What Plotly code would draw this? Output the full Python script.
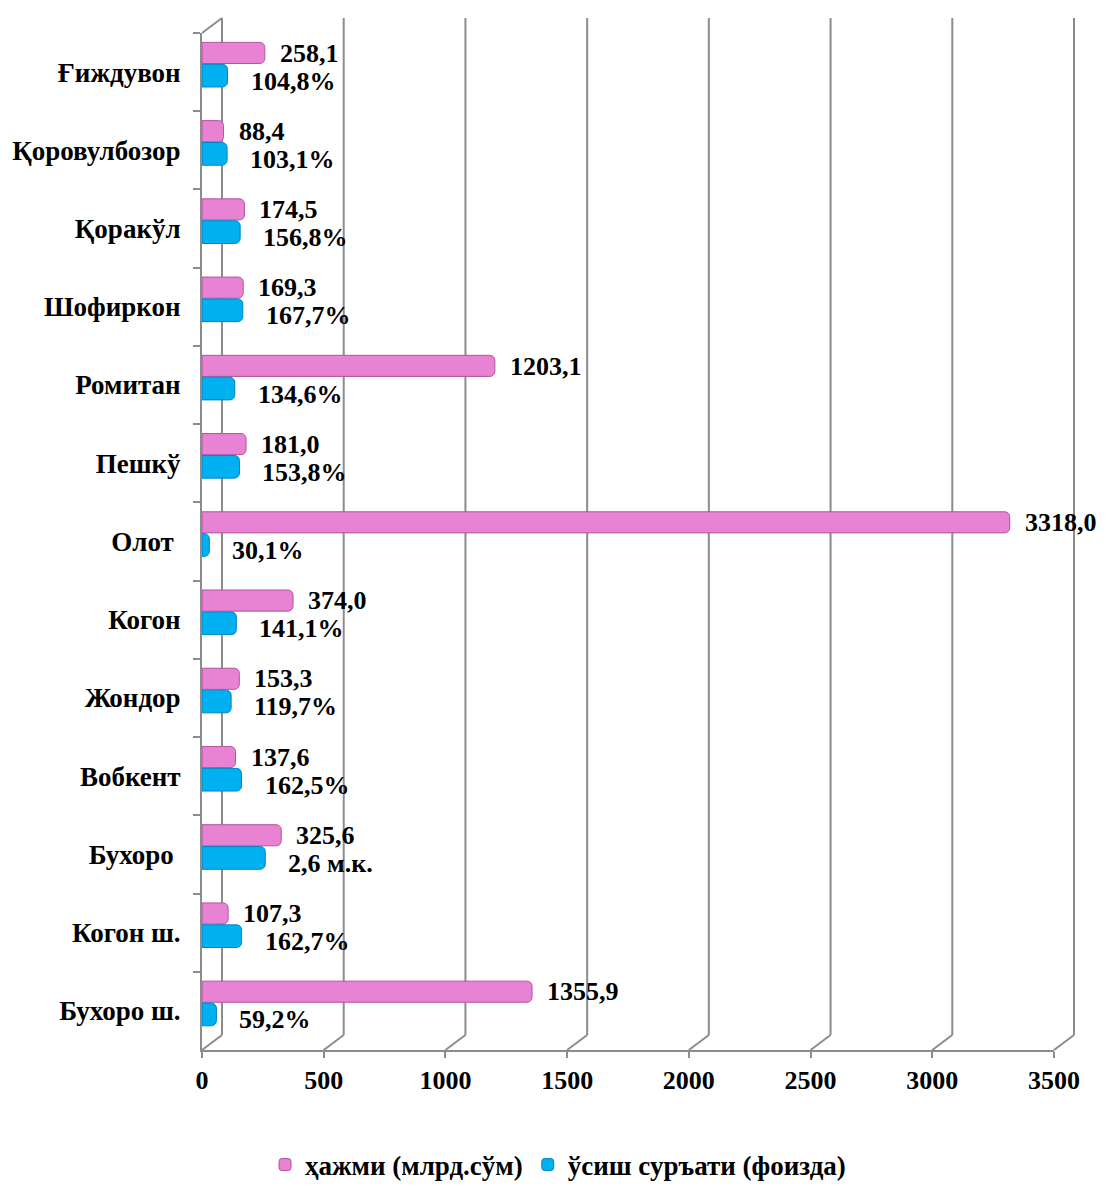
import plotly.graph_objects as go

# ---- data ----
districts = ["Ғиждувон", "Қоровулбозор", "Қоракўл", "Шофиркон", "Ромитан", "Пешкў",
             "Олот ", "Когон", "Жондор", "Вобкент", "Бухоро ", "Когон ш.", "Бухоро ш."]
volume = [258.1, 88.4, 174.5, 169.3, 1203.1, 181.0, 3318.0, 374.0, 153.3, 137.6, 325.6, 107.3, 1355.9]
growth = [104.8, 103.1, 156.8, 167.7, 134.6, 153.8, 30.1, 141.1, 119.7, 162.5, 260.0, 162.7, 59.2]
growth_labels = ["104,8%", "103,1%", "156,8%", "167,7%", "134,6%", "153,8%", "30,1%",
                 "141,1%", "119,7%", "162,5%", "2,6 м.к.", "162,7%", "59,2%"]
volume_labels = [f"{v:.1f}".replace(".", ",") for v in volume]
x_ticks = [0, 500, 1000, 1500, 2000, 2500, 3000, 3500]
series_names = ["ҳажми (млрд.сўм)", "ўсиш суръати (фоизда)"]

# ---- style ----
FONT = "Liberation Serif"
GRID = "#8C8C8C"
PINK = "#E882D2"
PINK_EDGE = "#B2559E"
BLUE = "#00B0F0"
BLUE_EDGE = "#0084C4"

# page has an 8px body margin; figure sized to fit the window
W, H = 1098, 1187
ML, MR, MT = 194, 52, 25
PH = 1017
MB = H - MT - PH
PW = W - ML - MR
XMIN, XMAX = x_ticks[0], x_ticks[-1]

fig = go.Figure()
fig.add_trace(go.Bar(
    y=districts, x=volume, orientation="h", name=series_names[0],
    marker=dict(color=PINK, line=dict(color=PINK_EDGE, width=1), cornerradius=5),
    offset=-0.38, width=0.27, cliponaxis=False,
))
fig.add_trace(go.Bar(
    y=districts, x=growth, orientation="h", name=series_names[1],
    marker=dict(color=BLUE, line=dict(color=BLUE_EDGE, width=1), cornerradius=5),
    offset=-0.10, width=0.29, cliponaxis=False,
))

# value labels placed from the data through the axes
annotations = []
lab_font = dict(family=FONT, size=26, color="black", weight="bold")
for d, v, t in zip(districts, volume, volume_labels):
    annotations.append(dict(x=v, y=d, xref="x", yref="y", text=t, showarrow=False,
                            xanchor="left", yanchor="middle", xshift=13, yshift=19, font=lab_font))
for d, v, t in zip(districts, growth, growth_labels):
    annotations.append(dict(x=v, y=d, xref="x", yref="y", text=t, showarrow=False,
                            xanchor="left", yanchor="middle", xshift=21, yshift=-9, font=lab_font))

# 3D-like back wall gridlines (computed from axis scale)
def xp(v):
    return (v - XMIN) / (XMAX - XMIN)

dxp = 20 / PW
dyp = 15 / PH
shapes = []
for v in x_ticks:
    x0 = xp(v)
    shapes.append(dict(type="line", xref="paper", yref="paper", x0=x0, y0=0, x1=x0 + dxp, y1=dyp,
                       line=dict(color=GRID, width=2), layer="below"))
    shapes.append(dict(type="line", xref="paper", yref="paper", x0=x0 + dxp, y0=dyp, x1=x0 + dxp, y1=1 + dyp,
                       line=dict(color=GRID, width=2), layer="below"))
shapes.append(dict(type="line", xref="paper", yref="paper", x0=0, y0=1, x1=dxp, y1=1 + dyp,
                   line=dict(color=GRID, width=2), layer="below"))

fig.update_layout(
    width=W, height=H,
    margin=dict(l=ML, r=MR, t=MT, b=MB, autoexpand=False),
    plot_bgcolor="white", paper_bgcolor="white",
    barmode="group",
    shapes=shapes,
    annotations=annotations,
    font=dict(family=FONT, size=26, color="black", weight="bold"),
    xaxis=dict(range=[XMIN, XMAX], tickvals=x_ticks, showgrid=False, zeroline=False,
               showline=True, linecolor=GRID, linewidth=2,
               ticks="outside", ticklen=6, tickcolor=GRID, tickwidth=2,
               tickfont=dict(family=FONT, size=26, color="black", weight="bold")),
    yaxis=dict(autorange="reversed", showgrid=False, zeroline=False,
               showline=True, linecolor=GRID, linewidth=2,
               ticks="outside", ticklen=7, tickcolor=GRID, tickwidth=2, tickson="boundaries",
               ticklabelstandoff=14,
               tickfont=dict(family=FONT, size=27, color="black", weight="bold")),
    legend=dict(orientation="h", x=(558 - 8 - ML) / PW, xanchor="center",
                y=-(1165 - 8 - (MT + PH)) / PH, yanchor="middle",
                font=dict(family=FONT, size=27, color="black", weight="bold"),
                itemwidth=30),
    showlegend=True,
)

fig.write_html("out.html")
